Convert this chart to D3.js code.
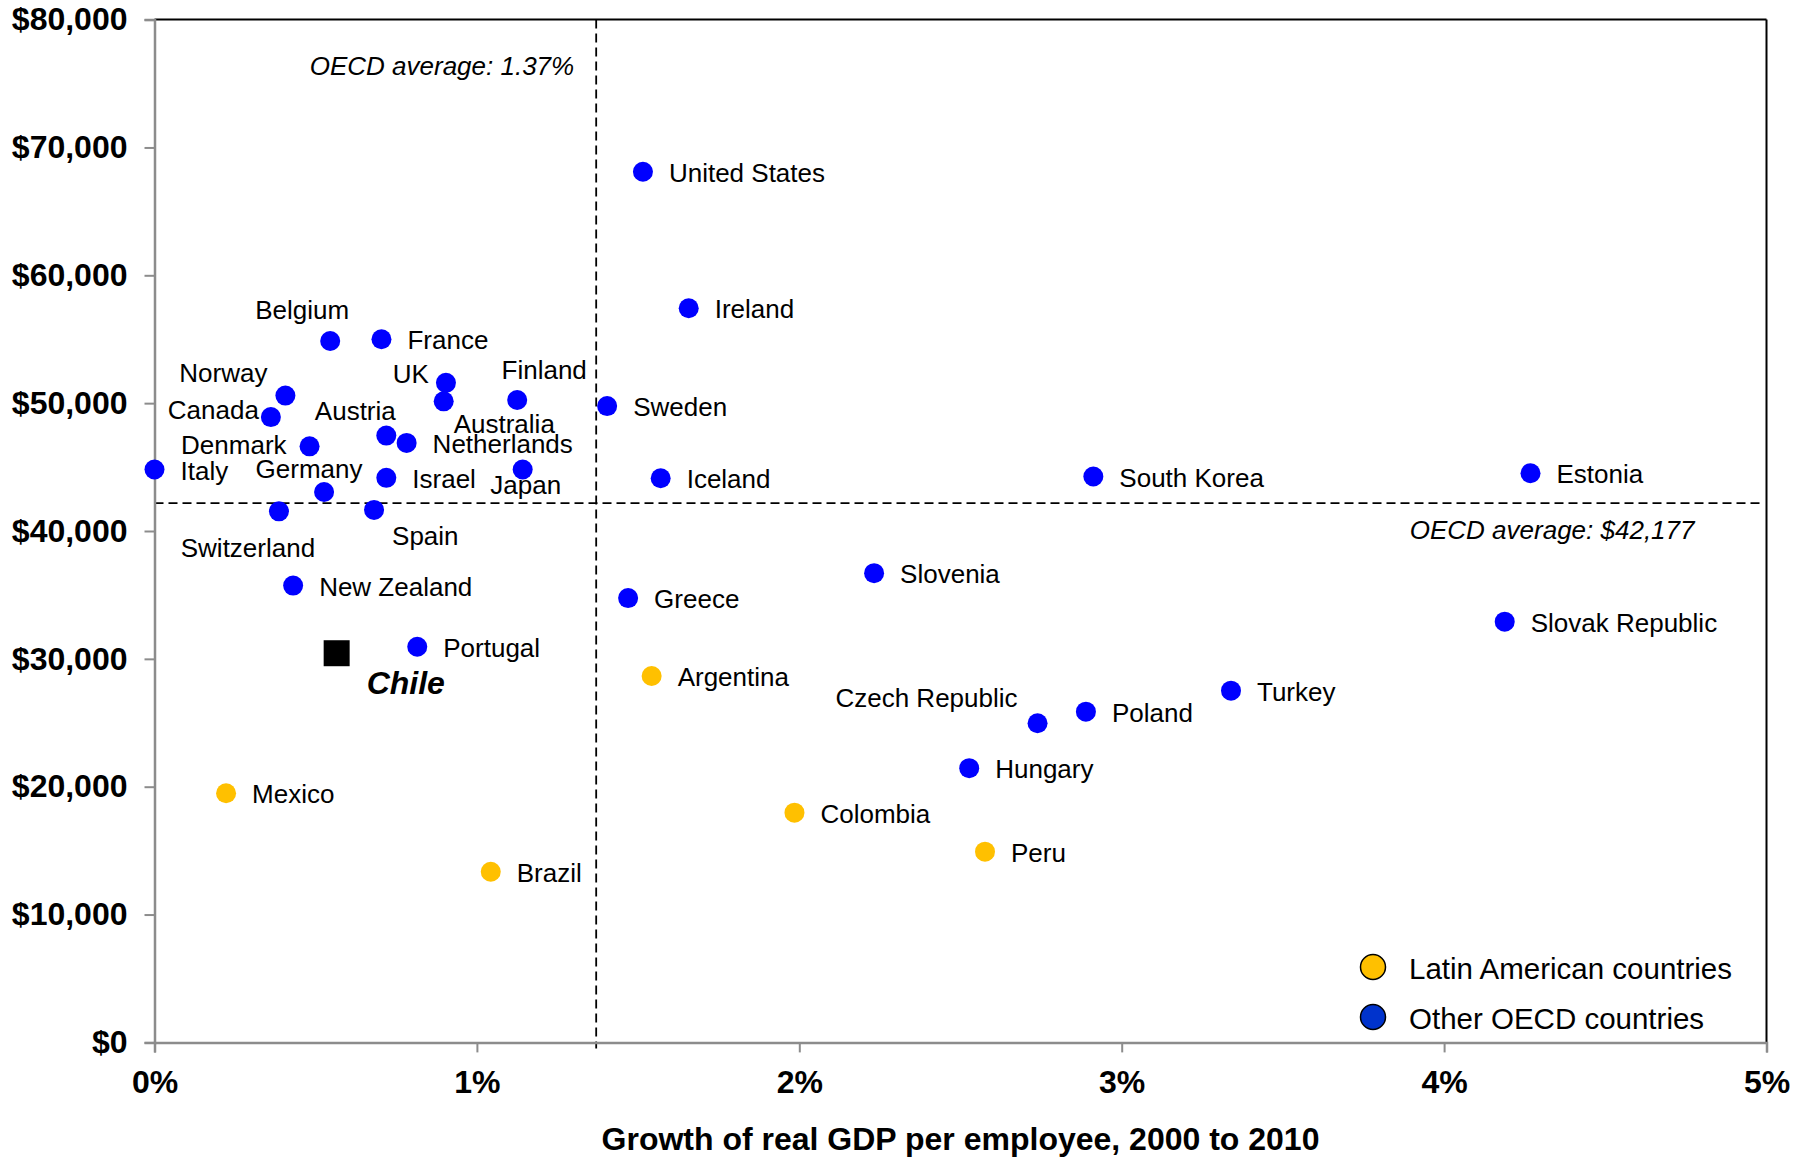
<!DOCTYPE html>
<html>
<head>
<meta charset="utf-8">
<script src="https://cdn.jsdelivr.net/npm/d3@7/dist/d3.min.js"></script>
<style>
  html, body { margin: 0; padding: 0; background: #ffffff; }
  svg { display: block; font-family: "Liberation Sans", Arial, sans-serif; }
</style>
</head>
<body>
<svg id="chart" width="1808" height="1157"></svg>
<script>
// Country names, growth of real GDP per employee 2000-2010 (% per year),
// real GDP per employee (US$) and group membership.
const countries = [
  "United States", "Ireland", "Sweden", "Iceland", "South Korea", "Estonia",
  "Slovenia", "Greece", "Slovak Republic", "Argentina", "Turkey", "Poland",
  "Czech Republic", "Hungary", "Colombia", "Peru", "Brazil", "Mexico",
  "Chile", "Portugal", "New Zealand", "Switzerland", "Spain", "Germany",
  "Italy", "Israel", "Japan", "Denmark", "Austria", "Netherlands",
  "Canada", "Norway", "Australia", "UK", "Finland", "Belgium", "France"
];
const growth = [
  1.515, 1.657, 1.404, 1.570, 2.912, 4.268,
  2.232, 1.469, 4.188, 1.542, 3.339, 2.889,
  2.739, 2.527, 1.985, 2.576, 1.043, 0.222,
  0.565, 0.815, 0.430, 0.386, 0.681, 0.526,
  0.000, 0.719, 1.142, 0.481, 0.719, 0.782,
  0.361, 0.406, 0.897, 0.904, 1.125, 0.545, 0.704
];
const gdpPerEmployee = [
  68100, 57420, 49770, 44130, 44260, 44520,
  36700, 34750, 32910, 28660, 27510, 25870,
  24960, 21450, 17970, 14920, 13350, 19490,
  30440, 30950, 35730, 41540, 41650, 43050,
  44810, 44160, 44810, 46620, 47460, 46890,
  48910, 50590, 50140, 51590, 50250, 54860, 55000
];
const groups = [
  "oecd", "oecd", "oecd", "oecd", "oecd", "oecd",
  "oecd", "oecd", "oecd", "latam", "oecd", "oecd",
  "oecd", "oecd", "latam", "latam", "latam", "latam",
  "chile", "oecd", "oecd", "oecd", "oecd", "oecd",
  "oecd", "oecd", "oecd", "oecd", "oecd", "oecd",
  "oecd", "oecd", "oecd", "oecd", "oecd", "oecd", "oecd"
];

// Reference averages
const oecdAvgGrowth = 1.37;
const oecdAvgGdp = 42177;

// Axis ticks
const xTicks = [0, 1, 2, 3, 4, 5];
const yTicks = [0, 10000, 20000, 30000, 40000, 50000, 60000, 70000, 80000];

// Legend entries
const legendLabels = ["Latin American countries", "Other OECD countries"];

// ---- layout ----
const svg = d3.select("#chart");
const W = 1808, H = 1157;
const plot = { left: 154.5, right: 1766.5, top: 19.6, bottom: 1042.4 };

const x = d3.scaleLinear().domain([0, 5]).range([plot.left, plot.right]);
const y = d3.scaleLinear().domain([0, 80000]).range([plot.bottom, plot.top]);

const colors = { oecd: "#0000ff", latam: "#ffc000" };
const legendColors = ["#ffc000", "#0033cc"];

// Label placement around each marker: [anchor, dx, dy]
const defaultPlacement = ["start", 26, 1];
const labelPlacement = {
  "Czech Republic": ["end", -20, -25],
  "Switzerland": ["middle", -31, 37],
  "Spain": ["start", 18, 26],
  "Germany": ["middle", -15, -23],
  "Japan": ["middle", 3, 15],
  "Denmark": ["end", -23, -1],
  "Austria": ["middle", -31, -25],
  "Australia": ["start", 10, 23],
  "UK": ["end", -17, -9],
  "Finland": ["middle", 27, -30],
  "Canada": ["end", -12, -7],
  "Norway": ["middle", -62, -23],
  "Belgium": ["middle", -28, -31],
  "Chile": ["start", 30, 30]
};

svg.append("rect").attr("width", W).attr("height", H).attr("fill", "#ffffff");

const points = countries.map((name, i) => ({
  name, gx: growth[i], gy: gdpPerEmployee[i], group: groups[i]
}));

// Frame: top and right borders
svg.append("line")
  .attr("x1", plot.left).attr("x2", plot.right)
  .attr("y1", plot.top).attr("y2", plot.top)
  .attr("stroke", "#000").attr("stroke-width", 2);
svg.append("line")
  .attr("x1", plot.right).attr("x2", plot.right)
  .attr("y1", plot.top).attr("y2", plot.bottom)
  .attr("stroke", "#000").attr("stroke-width", 2);

// Average reference lines
svg.append("line")
  .attr("x1", x(oecdAvgGrowth)).attr("x2", x(oecdAvgGrowth))
  .attr("y1", plot.top).attr("y2", plot.bottom + 6)
  .attr("stroke", "#000").attr("stroke-width", 1.8)
  .attr("stroke-dasharray", "9,5");
svg.append("line")
  .attr("x1", plot.left).attr("x2", plot.right - 5)
  .attr("y1", y(oecdAvgGdp)).attr("y2", y(oecdAvgGdp))
  .attr("stroke", "#000").attr("stroke-width", 1.8)
  .attr("stroke-dasharray", "9,5");

svg.append("text")
  .attr("x", x(oecdAvgGrowth) - 22).attr("y", plot.top + 46)
  .attr("text-anchor", "end").attr("dominant-baseline", "central")
  .attr("font-size", 26).attr("font-style", "italic")
  .text("OECD average: " + oecdAvgGrowth.toFixed(2) + "%");
svg.append("text")
  .attr("x", plot.right - 72).attr("y", y(oecdAvgGdp) + 27)
  .attr("text-anchor", "end").attr("dominant-baseline", "central")
  .attr("font-size", 26).attr("font-style", "italic")
  .text("OECD average: " + d3.format("$,")(oecdAvgGdp));

// Axes
const yAxis = d3.axisLeft(y).tickValues(yTicks).tickFormat(d3.format("$,"))
  .tickSize(10).tickPadding(17);
const yG = svg.append("g").attr("transform", `translate(${plot.left},0)`).call(yAxis);

const xAxis = d3.axisBottom(x).tickValues(xTicks).tickFormat(d => d + "%")
  .tickSize(10).tickPadding(18);
const xG = svg.append("g").attr("transform", `translate(0,${plot.bottom})`).call(xAxis);

[yG, xG].forEach(g => {
  g.select(".domain").attr("stroke", "#8c8c8c").attr("stroke-width", 2.5);
  g.selectAll(".tick line").attr("stroke", "#8c8c8c").attr("stroke-width", 2);
  g.selectAll(".tick text")
    .attr("font-family", "Liberation Sans, Arial, sans-serif")
    .attr("font-size", 32).attr("font-weight", "bold").attr("fill", "#000");
});

svg.append("text")
  .attr("x", (plot.left + plot.right) / 2).attr("y", 1150)
  .attr("text-anchor", "middle")
  .attr("font-size", 32).attr("font-weight", "bold")
  .text("Growth of real GDP per employee, 2000 to 2010");

// Markers
svg.append("g").selectAll("circle")
  .data(points.filter(d => d.group !== "chile"))
  .join("circle")
  .attr("cx", d => x(d.gx)).attr("cy", d => y(d.gy))
  .attr("r", 10)
  .attr("fill", d => colors[d.group]);

svg.append("g").selectAll("path")
  .data(points.filter(d => d.group === "chile"))
  .join("path")
  .attr("transform", d => `translate(${x(d.gx)},${y(d.gy)})`)
  .attr("d", d3.symbol(d3.symbolSquare).size(26 * 26))
  .attr("fill", "#000");

// Country labels
svg.append("g").selectAll("text")
  .data(points)
  .join("text")
  .each(function (d) {
    const p = labelPlacement[d.name] || defaultPlacement;
    const t = d3.select(this)
      .attr("x", x(d.gx) + p[1]).attr("y", y(d.gy) + p[2])
      .attr("text-anchor", p[0]).attr("dominant-baseline", "central")
      .attr("fill", "#000")
      .text(d.name);
    if (d.group === "chile") {
      t.attr("font-size", 32).attr("font-weight", "bold").attr("font-style", "italic");
    } else {
      t.attr("font-size", 26);
    }
  });

// Legend
const legend = svg.append("g");
legendLabels.forEach((label, i) => {
  const cy = 967 + i * 50;
  legend.append("circle")
    .attr("cx", 1373).attr("cy", cy).attr("r", 12.5)
    .attr("fill", legendColors[i]).attr("stroke", "#000").attr("stroke-width", 1.5);
  legend.append("text")
    .attr("x", 1409).attr("y", cy + 1)
    .attr("dominant-baseline", "central")
    .attr("font-size", 29.5).attr("fill", "#000")
    .text(label);
});
</script>
</body>
</html>
